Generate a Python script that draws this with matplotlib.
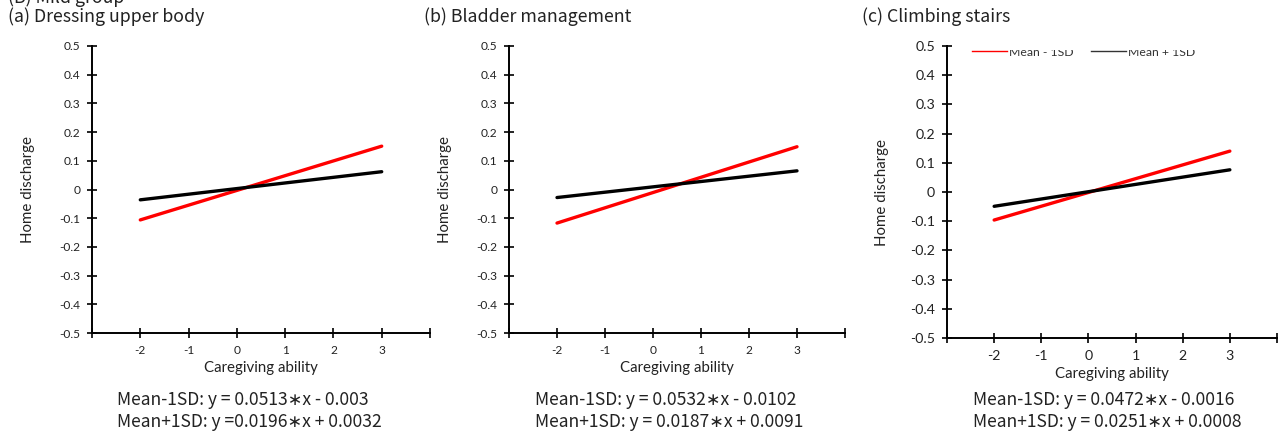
import matplotlib
matplotlib.use("Agg")
from matplotlib import pyplot as plt
from matplotlib.transforms import Bbox, TransformedBbox
from matplotlib.lines import Line2D

# x values where the simple slopes are drawn
x_pts = [-2, 3]

# panel titles
titles = ["(a) Dressing upper body", "(b) Bladder management", "(c) Climbing stairs"]

# line end values
low_a = [-0.106, 0.151]
high_a = [-0.036, 0.062]
low_b = [-0.117, 0.149]
high_b = [-0.028, 0.065]
low_c = [-0.096, 0.140]
high_c = [-0.049, 0.076]

# equations under each panel
eq_low = ["Mean-1SD: y = 0.0513\u2217x - 0.003",
          "Mean-1SD: y = 0.0532\u2217x - 0.0102",
          "Mean-1SD: y = 0.0472\u2217x - 0.0016"]
eq_high = ["Mean+1SD: y =0.0196\u2217x + 0.0032",
           "Mean+1SD: y = 0.0187\u2217x + 0.0091",
           "Mean+1SD: y = 0.0251\u2217x + 0.0008"]

y_ticks = [0.5, 0.4, 0.3, 0.2, 0.1, 0, -0.1, -0.2, -0.3, -0.4, -0.5]
y_labels = ["0.5", "0.4", "0.3", "0.2", "0.1", "0", "-0.1", "-0.2", "-0.3", "-0.4", "-0.5"]
x_ticks = [-3, -2, -1, 0, 1, 2, 3, 4]
x_labels = ["", "-2", "-1", "0", "1", "2", "3", ""]

W, H = 1285, 432
fig = plt.figure(figsize=(W / 100, H / 100), dpi=100)

tick_font = "Lato"
cjk = ["Noto Sans CJK SC", "DejaVu Sans"]


def px_rect(left, right, top, bottom):
    return [left / W, (H - bottom) / H, (right - left) / W, (bottom - top) / H]


# axes boxes in pixels (left, right, top, bottom)
boxes = [(92, 430, 46, 333), (509, 845, 46, 333), (947, 1277, 46, 338)]
lows = [low_a, low_b, low_c]
highs = [high_a, high_b, high_c]
tick_sizes = [8.6, 8.6, 10.2]
title_x = [8, 424, 862]
eq_x = [117, 535, 973]
ylab_x = [35, 452, 889]

for i in range(3):
    ax = fig.add_axes(px_rect(*boxes[i]))
    ax.plot(x_pts, lows[i], color="#FF0000", lw=2.4, solid_capstyle="round", label="Mean - 1SD")
    ax.plot(x_pts, highs[i], color="black", lw=2.4, solid_capstyle="round", label="Mean + 1SD")
    ax.set_xlim(-3, 4)
    ax.set_ylim(-0.5, 0.5)
    for s in ["top", "right"]:
        ax.spines[s].set_visible(False)
    for s in ["left", "bottom"]:
        ax.spines[s].set_linewidth(1.4)
        ax.spines[s].set_color("black")
    ax.set_xticks(x_ticks)
    ax.set_xticklabels(x_labels)
    ax.set_yticks(y_ticks)
    ax.set_yticklabels(y_labels)
    ax.tick_params(direction="inout", length=7, width=1.2, color="black",
                   labelsize=tick_sizes[i], labelcolor="#222222", pad=5)
    for lab in ax.get_xticklabels() + ax.get_yticklabels():
        lab.set_fontfamily(tick_font)
    for t in ax.xaxis.get_major_ticks() + ax.yaxis.get_major_ticks():
        t.tick1line.set_clip_on(False)
    ax.set_xlabel("Caregiving ability", fontfamily=tick_font, fontsize=10.8,
                  color="#222222", labelpad=4)
    ax.set_ylabel("Home discharge", fontfamily=tick_font, fontsize=10.8,
                  color="#222222")
    ax.yaxis.set_label_coords((ylab_x[i] - boxes[i][0]) / (boxes[i][1] - boxes[i][0]), 0.5)

    fig.text(title_x[i] / W, 1 - 17 / H, titles[i], family=cjk, fontsize=12.8,
             color="#222222", va="center", ha="left")
    fig.text(eq_x[i] / W, 1 - 400 / H, eq_low[i], family=cjk, fontsize=12.6,
             color="#222222", va="center", ha="left")
    fig.text(eq_x[i] / W, 1 - 422 / H, eq_high[i], family=cjk, fontsize=12.6,
             color="#222222", va="center", ha="left")

    if i == 2:
        handles = [Line2D([0], [0], color="#FF0000", lw=1.0),
                   Line2D([0], [0], color="#333333", lw=1.0)]
        leg = ax.legend(handles, ["Mean - 1SD", "Mean + 1SD"], ncol=2, frameon=False,
                        loc="center left", bbox_to_anchor=(0.06, 1 - 6 / 292),
                        fontsize=8.8, handlelength=2.9, handletextpad=0.15,
                        columnspacing=1.4, borderaxespad=0)
        clip = TransformedBbox(Bbox([[0, 0], [1, 1 - 49.5 / H]]), fig.transFigure)
        for t in leg.get_texts():
            t.set_fontfamily(tick_font)
            t.set_color("#333333")
            t.set_clip_box(clip)
            t.set_clip_on(True)

# cut-off group heading at the very top
fig.text(8 / W, 1 - 3 / H, "(B) Mild group", family=cjk, fontsize=12.8,
         color="#222222", va="baseline", ha="left")

fig.savefig("out.png", dpi=100)
